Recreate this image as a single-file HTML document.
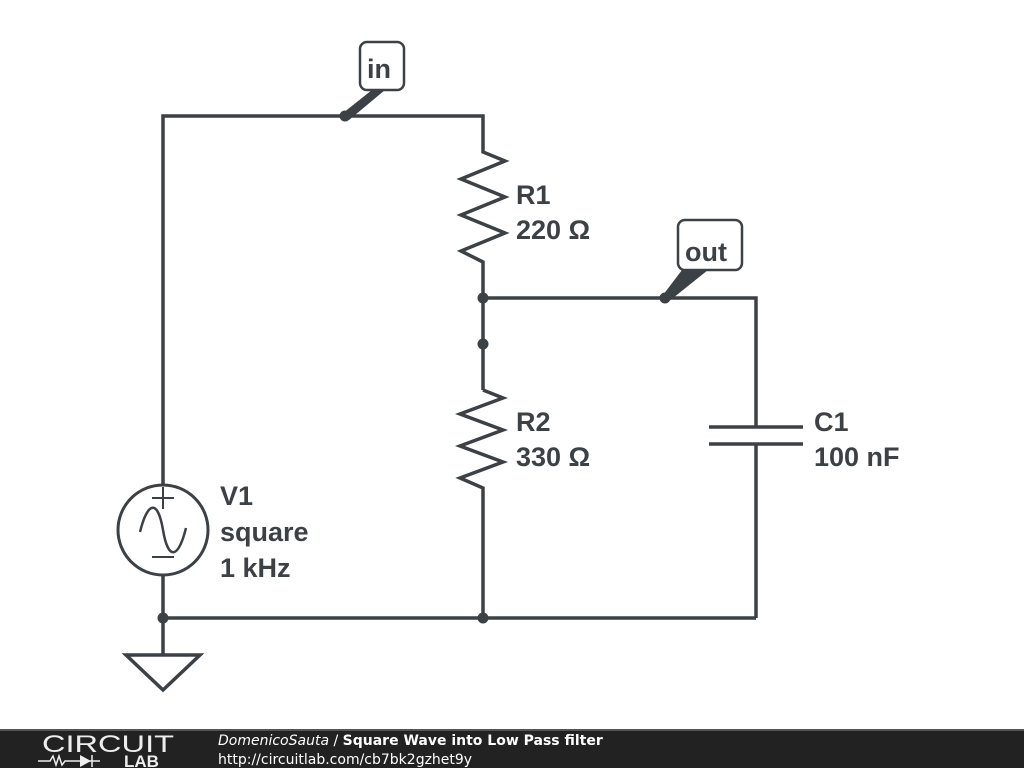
<!DOCTYPE html>
<html><head><style>
html,body{margin:0;padding:0;background:#fff;width:1024px;height:768px;overflow:hidden}
</style></head><body>
<svg width="1024" height="768" viewBox="0 0 1024 768" xmlns="http://www.w3.org/2000/svg">
<g stroke="#3c4146" stroke-width="3.5" fill="none" stroke-linejoin="miter">
<polyline points="163,485 163,116 483,116 483,152 505,161 461,179 505,197 461,215 505,233 461,251 483,262 483,298"/>
<line x1="483" y1="298" x2="483" y2="390"/>
<polyline points="483,390 503,398 460,414 503,430 460,446 503,462 460,478 483,488 483,618"/>
<polyline points="483,298 756,298 756,427"/>
<line x1="756" y1="444" x2="756" y2="618"/>
<line x1="709" y1="427" x2="803" y2="427"/>
<line x1="709" y1="444" x2="803" y2="444"/>
<line x1="163" y1="575" x2="163" y2="655"/>
<line x1="163" y1="618" x2="756" y2="618"/>
<polygon points="126,655 200,655 163,690"/>
<circle cx="163" cy="530" r="45" stroke-width="3"/>
<path d="M140,532 C148,500 158,500 163,530 C168,560 178,560 186,528" stroke-width="2.5"/>
<line x1="152" y1="498" x2="174" y2="498" stroke-width="2"/>
<line x1="163" y1="487" x2="163" y2="509" stroke-width="2"/>
<line x1="152" y1="557" x2="174" y2="557" stroke-width="2"/>
<rect x="360" y="42" width="44" height="48" rx="7" stroke-width="2.5" fill="#fff"/>
<rect x="678" y="220" width="64" height="50" rx="7" stroke-width="2.5" fill="#fff"/>
</g>
<g fill="#3c4146">
<circle cx="345" cy="116" r="5.5"/>
<polygon points="343,113 372,90 385,90 349,120"/>
<circle cx="665" cy="298" r="5.5"/>
<polygon points="663,295 682,270 708,270 668,302"/>
<circle cx="483" cy="298" r="5.5"/>
<circle cx="483" cy="344" r="5.5"/>
<circle cx="483" cy="618" r="5.5"/>
<circle cx="163" cy="618" r="5.5"/>
</g>
<g font-family="Liberation Sans, sans-serif" font-weight="bold" font-size="27" fill="#3c4146">
<text x="367" y="78">in</text>
<text x="685" y="261">out</text>
<text x="516" y="204">R1</text>
<text x="516" y="239">220 Ω</text>
<text x="516" y="431">R2</text>
<text x="516" y="466">330 Ω</text>
<text x="814" y="431">C1</text>
<text x="814" y="466">100 nF</text>
<text x="220" y="505">V1</text>
<text x="220" y="541">square</text>
<text x="220" y="577">1 kHz</text>
</g>
<rect x="0" y="729" width="1024" height="39" fill="#222"/>
<rect x="0" y="729" width="1024" height="2" fill="#555"/>
<text x="42" y="752" font-family="Liberation Sans, sans-serif" font-size="24" fill="#eee" textLength="132" lengthAdjust="spacingAndGlyphs">CIRCUIT</text>
<g stroke="#eee" stroke-width="1.5" fill="none">
<polyline points="38,761 50,761 53,756 56,765 59,756 62,765 65,761 75,761"/>
<line x1="75" y1="761" x2="100" y2="761"/>
<line x1="92" y1="755" x2="92" y2="767"/>
</g>
<polygon points="80,755 80,767 91,761" fill="#eee"/>
<text x="124" y="767" font-family="Liberation Sans, sans-serif" font-weight="bold" font-size="17" fill="#eee">LAB</text>
<text x="218" y="745" font-family="DejaVu Sans, sans-serif" font-size="14" fill="#fff"><tspan font-style="italic">DomenicoSauta</tspan> / <tspan font-weight="bold">Square Wave into Low Pass filter</tspan></text>
<text x="218" y="764" font-family="DejaVu Sans, sans-serif" font-size="14" fill="#fff">http://circuitlab.com/cb7bk2gzhet9y</text>
</svg>
</body></html>
